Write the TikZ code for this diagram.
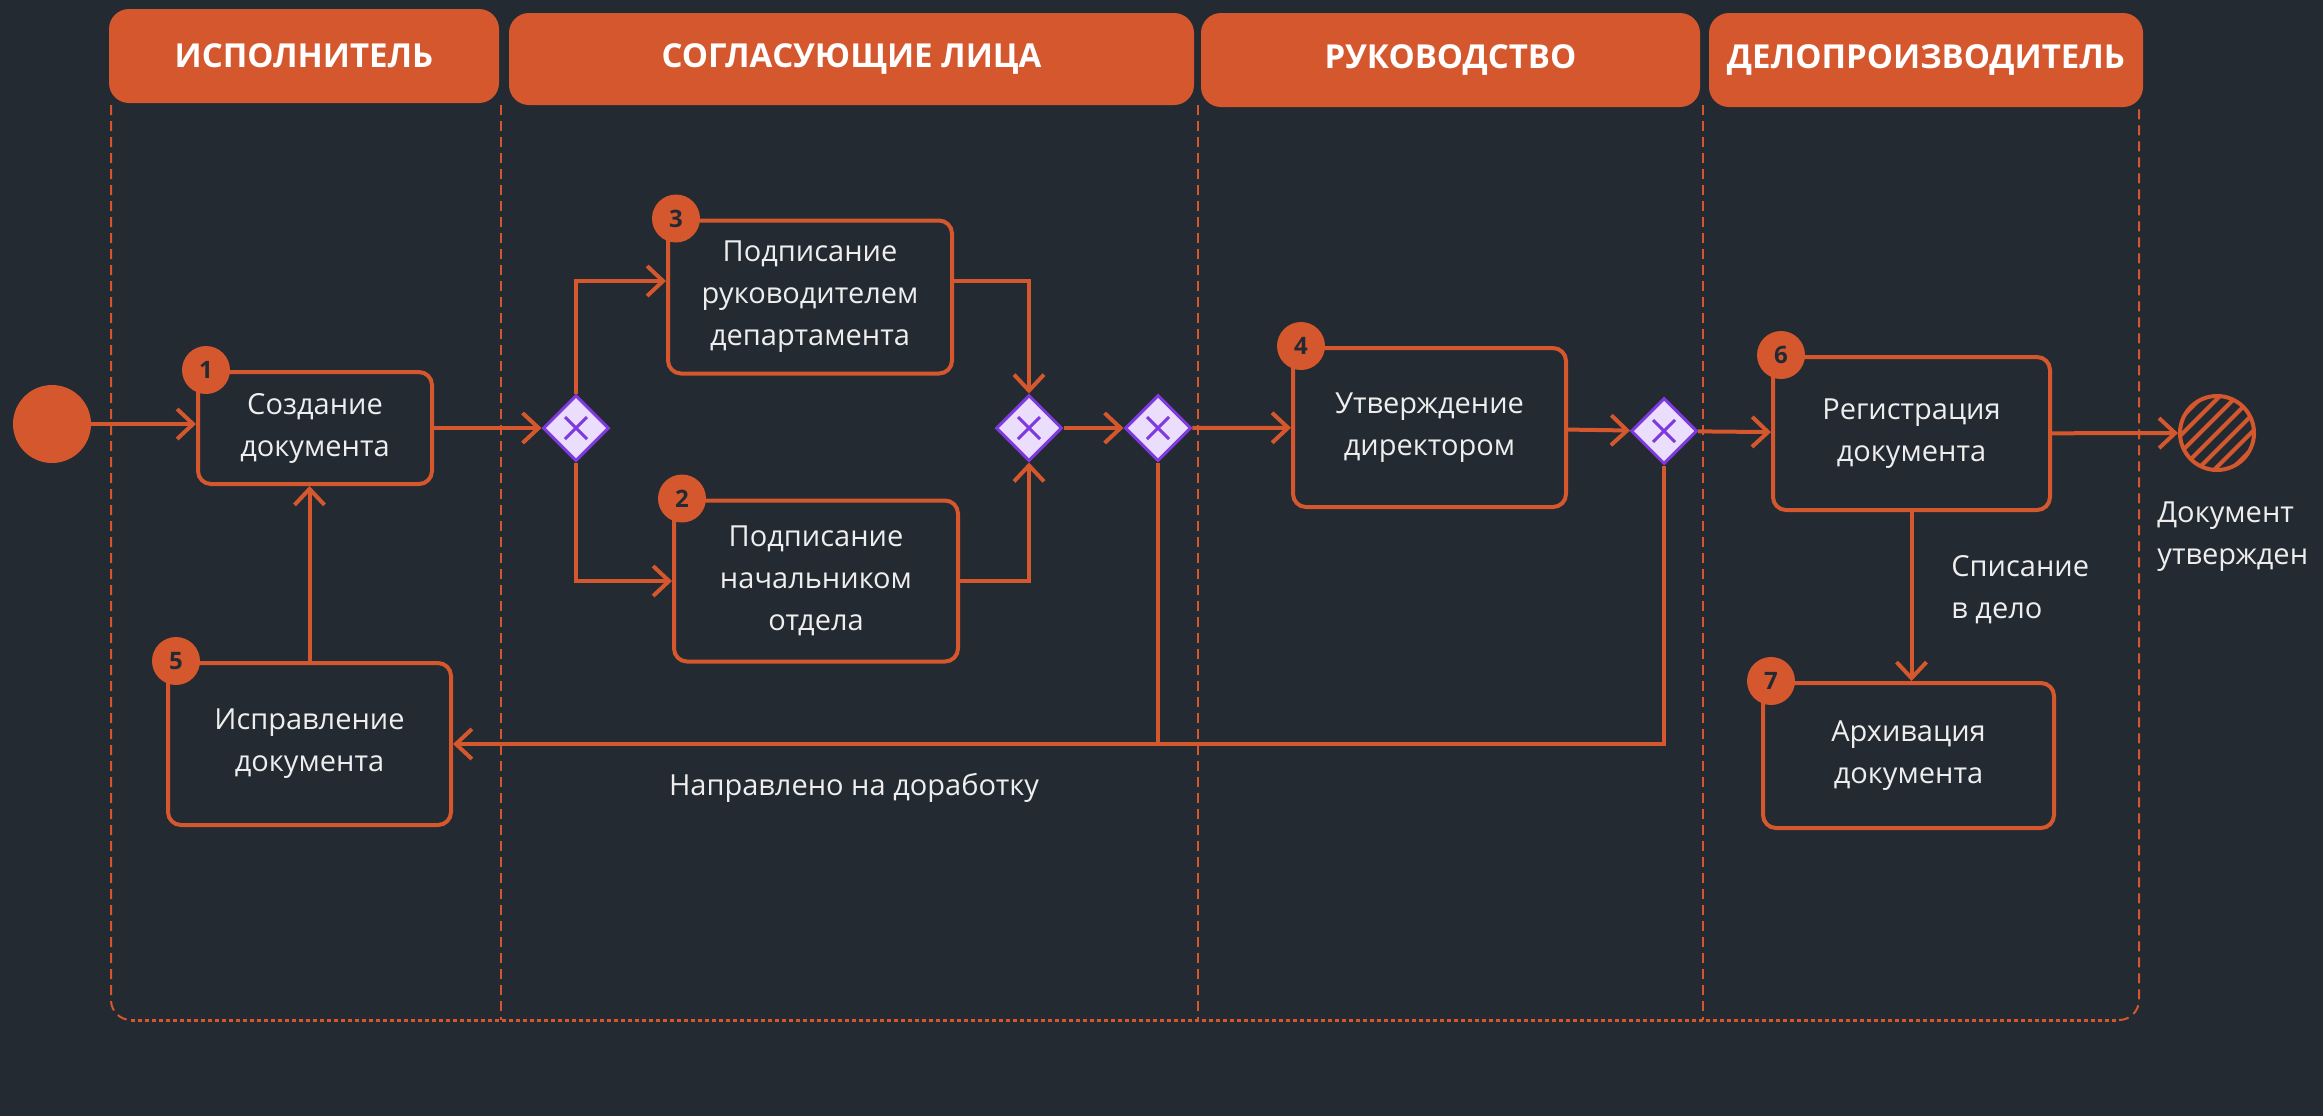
\documentclass[tikz,border=0pt]{standalone}
\usepackage{fontspec}
\setmainfont{Open Sans}
\usetikzlibrary{arrows.meta,shapes.geometric}

\definecolor{bg}{RGB}{35,42,49}
\definecolor{accent}{RGB}{212,87,46}
\definecolor{gwfill}{RGB}{235,222,252}
\definecolor{gwline}{RGB}{126,58,222}
\definecolor{txt}{RGB}{238,238,238}

\tikzset{
    lanehead/.style={fill=accent, rounded corners=10pt, text=white, inner sep=0pt,
        font=\fontsize{16.5pt}{20pt}\selectfont\bfseries},
    lane/.style={draw=accent, line width=1pt, dash pattern=on 5pt off 3pt},
    laneend/.style={draw=accent, line width=1.5pt, dash pattern=on 2pt off 1.5pt},
    task/.style={draw=accent, line width=2pt, rounded corners=6.5pt, fill=bg, text=txt,
        align=center, inner sep=0pt, font=\fontsize{14.5pt}{21pt}\selectfont},
    badge/.style={circle, fill=accent, text=bg, minimum size=24pt, inner sep=0pt,
        font=\fontsize{12pt}{12pt}\selectfont\bfseries},
    gateway/.style={diamond, draw=gwline, fill=gwfill, line width=1.5pt, minimum size=33pt,
        inner sep=0pt, path picture={
            \draw[gwline, line width=1.5pt] (path picture bounding box.center)
                ++(-5.5pt,-5.5pt) -- ++(11pt,11pt) ++(-11pt,0pt) -- ++(11pt,-11pt);}},
    flow/.style={draw=accent, line width=2pt, -{Straight Barb[length=8pt,width=15pt]}},
    plain/.style={draw=accent, line width=2pt},
    note/.style={text=txt, align=left, inner sep=0pt, font=\fontsize{14.5pt}{21pt}\selectfont},
}

\begin{document}
\begin{tikzpicture}[x=0.5pt,y=-0.5pt]
    \fill[bg] (0,0) rectangle (2323,1116);

    % lanes
    \draw[lane, rounded corners=10pt] (111,105) -- (111,1020) -- (131,1020);
    \draw[laneend] (131,1020) -- (2119,1020);
    \draw[lane, rounded corners=10pt] (2119,1020) -- (2139,1020) -- (2139,105);
    \foreach \x in {501,1198,1703}
        \draw[lane] (\x,105) -- (\x,1020);

    \node[lanehead, minimum width=195pt, minimum height=47pt] (h1) at (304,56) {ИСПОЛНИТЕЛЬ};
    \node[lanehead, minimum width=342.5pt, minimum height=46pt] (h2) at (851.5,59) {СОГЛАСУЮЩИЕ ЛИЦА};
    \node[lanehead, minimum width=249.5pt, minimum height=47pt] (h3) at (1450.5,60) {РУКОВОДСТВО};
    \node[lanehead, minimum width=217pt, minimum height=47pt] (h4) at (1926,60) {ДЕЛОПРОИЗВОДИТЕЛЬ};

    % events and tasks
    \node[circle, fill=accent, minimum size=39pt, inner sep=0pt] (start) at (52,424) {};
    \node[circle, draw=accent, line width=2pt, minimum size=37pt, inner sep=0pt,
        path picture={\foreach \k in {-3,...,3}
            \draw[accent, line width=2pt] (path picture bounding box.center)
                ++(\k*8.5pt-25pt,-25pt) -- ++(50pt,50pt);}] (finish) at (2217,433) {};

    \node[task, minimum width=117pt, minimum height=56pt] (create) at (315,428) {Создание\\документа};
    \node[task, minimum width=142pt, minimum height=76.5pt] (signdep) at (810,297) {Подписание\\руководителем\\департамента};
    \node[task, minimum width=142pt, minimum height=80.5pt] (signhead) at (816,581) {Подписание\\начальником\\отдела};
    \node[task, minimum width=136.5pt, minimum height=79.5pt] (approve) at (1429.5,427.5) {Утверждение\\директором};
    \node[task, minimum width=138.5pt, minimum height=76.5pt] (register) at (1911.5,433.5) {Регистрация\\документа};
    \node[task, minimum width=145.5pt, minimum height=72.5pt] (archive) at (1908.5,755.5) {Архивация\\документа};
    \node[task, minimum width=141.5pt, minimum height=81pt] (fix) at (309.5,744) {Исправление\\документа};

    \node[badge] (n1) at ([xshift=5pt]create.north west) {1};
    \node[badge] (n2) at ([xshift=5pt]signhead.north west) {2};
    \node[badge] (n3) at ([xshift=5pt]signdep.north west) {3};
    \node[badge] (n4) at ([xshift=5pt]approve.north west) {4};
    \node[badge] (n5) at ([xshift=5pt]fix.north west) {5};
    \node[badge] (n6) at ([xshift=5pt]register.north west) {6};
    \node[badge] (n7) at ([xshift=5pt]archive.north west) {7};

    \node[gateway] (gw1) at (576,428) {};
    \node[gateway] (gw2) at (1029,428) {};
    \node[gateway] (gw3) at (1158,428) {};
    \node[gateway] (gw4) at (1664,431) {};

    % flows
    \draw[flow] (start) -- (create.west |- start);
    \draw[flow] (create.east) -- (gw1.west);
    \draw[flow] (gw1.north) |- ([yshift=8pt]signdep.west);
    \draw[flow] (gw1.south) |- (signhead.west);
    \draw[flow] ([yshift=8pt]signdep.east) -| (gw2.north);
    \draw[flow] (signhead.east) -| (gw2.south);
    \draw[flow] (gw2) -- (gw3);
    \draw[flow] (gw3) -- (approve);
    \draw[flow] (approve) -- (gw4);
    \draw[flow] (gw4) -- (register);
    \draw[flow] (register) -- (finish);
    \draw[flow] (register.south) -- (register.south |- archive.north);
    \draw[flow] (gw3.south) |- (fix.east);
    \draw[plain] (gw4.south) |- (gw3 |- fix.east);
    \draw[flow] (fix.north) -- (fix.north |- create.south);

    \node[note] (back) at (854,788) {Направлено на доработку};
    \node[note, anchor=west] (writeoff) at (1951,590) {Списание\\в дело};
    \node[note, anchor=west] (done) at (2157,537) {Документ\\утвержден};
\end{tikzpicture}
\end{document}
